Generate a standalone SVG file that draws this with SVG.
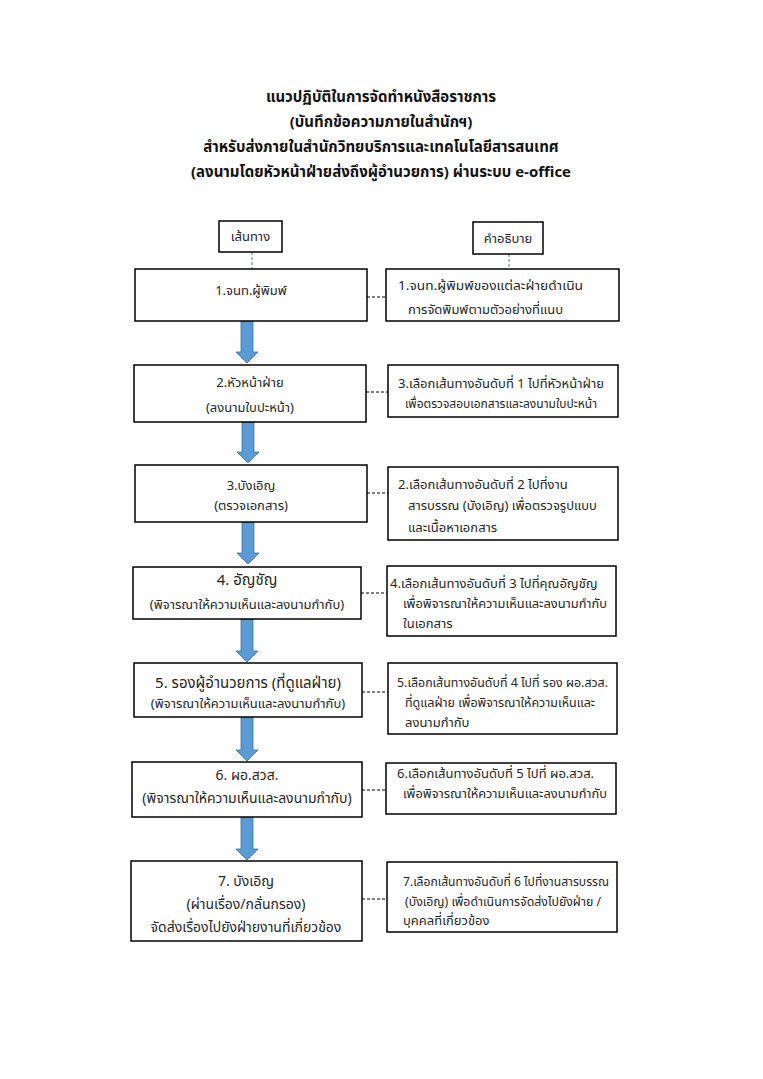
<svg xmlns="http://www.w3.org/2000/svg" width="763" height="1079" viewBox="0 0 763 1079">
<style>
text{font-family:"Noto Sans Thai","Tahoma","Noto Sans","DejaVu Sans",sans-serif;fill:#262626;font-size:13px}
.t{font-weight:bold;font-size:15px;fill:#111;text-anchor:middle}
.c{text-anchor:middle}
.box{fill:#fff;stroke:#000;stroke-width:1.5}
.dash{stroke:#000;stroke-width:1;stroke-dasharray:3,2;fill:none}
.vd{stroke:#41719C;stroke-width:1;stroke-dasharray:3,2;fill:none}
.arr{fill:#5B9BD5;stroke:#41719C;stroke-width:0.8}
.l{font-size:15px}
.m{font-size:14px}
</style>
<rect width="763" height="1079" fill="#fff"/>
<g id="title">
<text class="t" x="381" y="102">แนวปฏิบัติในการจัดทำหนังสือราชการ</text>
<text class="t" x="381" y="127">(บันทึกข้อความภายในสำนักฯ)</text>
<text class="t" x="381" y="152">สำหรับส่งภายในสำนักวิทยบริการและเทคโนโลยีสารสนเทศ</text>
<text class="t" x="381" y="177">(ลงนามโดยหัวหน้าฝ่ายส่งถึงผู้อำนวยการ) ผ่านระบบ e-office</text>
</g>
<g id="connectors">
<line class="vd" x1="252" y1="252" x2="252" y2="269"/>
<line class="vd" x1="509" y1="254" x2="509" y2="269"/>
<line class="dash" x1="367" y1="297" x2="386" y2="297"/>
<line class="dash" x1="366" y1="392" x2="388" y2="392"/>
<line class="dash" x1="367" y1="493" x2="388" y2="493"/>
<line class="dash" x1="361" y1="593" x2="387" y2="593"/>
<line class="dash" x1="362" y1="692" x2="388" y2="692"/>
<line class="dash" x1="362" y1="790" x2="386" y2="790"/>
<line class="dash" x1="362" y1="899" x2="387" y2="899"/>
<path class="arr" d="M241,321 H253 V352 H258 L247,363 L236,352 H241 Z"/>
<path class="arr" d="M242,422 H254 V452 H259 L248,463 L237,452 H242 Z"/>
<path class="arr" d="M242,522 H254 V553 H259 L248,564 L237,553 H242 Z"/>
<path class="arr" d="M241,619 H253 V651 H258 L247,662 L236,651 H241 Z"/>
<path class="arr" d="M241,717 H253 V750 H258 L247,761 L236,750 H241 Z"/>
<path class="arr" d="M241,817 H253 V849 H258 L247,860 L236,849 H241 Z"/>
</g>
<g id="h1"><rect class="box" x="219" y="221" width="63" height="31"/><text class="c" x="250.5" y="241">เส้นทาง</text></g>
<g id="h2"><rect class="box" x="473" y="222" width="70" height="32"/><text class="c" x="508" y="243">คำอธิบาย</text></g>
<g id="n1"><rect class="box" x="135" y="269" width="232" height="52"/><text class="c" x="251" y="295">1.จนท.ผู้พิมพ์</text></g>
<g id="d1"><rect class="box" x="386" y="269" width="233" height="52"/>
<text x="398" y="290" textLength="185" lengthAdjust="spacingAndGlyphs">1.จนท.ผู้พิมพ์ของแต่ละฝ่ายดำเนิน</text>
<text x="408" y="314">การจัดพิมพ์ตามตัวอย่างที่แนบ</text></g>
<g id="n2"><rect class="box" x="134" y="365" width="232" height="57"/>
<text class="c" x="250" y="387">2.หัวหน้าฝ่าย</text>
<text class="c" x="250" y="412">(ลงนามใบปะหน้า)</text></g>
<g id="d2"><rect class="box" x="388" y="365" width="230" height="52"/>
<text x="398" y="388">3.เลือกเส้นทางอันดับที่ 1 ไปที่หัวหน้าฝ่าย</text>
<text x="405" y="408" style="font-size:12px">เพื่อตรวจสอบเอกสารและลงนามใบปะหน้า</text></g>
<g id="n3"><rect class="box" x="135" y="465" width="232" height="57"/>
<text class="c" x="251" y="490">3.บังเอิญ</text>
<text class="c" x="251" y="510">(ตรวจเอกสาร)</text></g>
<g id="d3"><rect class="box" x="388" y="467" width="230" height="73"/>
<text x="398" y="489">2.เลือกเส้นทางอันดับที่ 2 ไปที่งาน</text>
<text x="408" y="510">สารบรรณ (บังเอิญ) เพื่อตรวจรูปแบบ</text>
<text x="408" y="532">และเนื้อหาเอกสาร</text></g>
<g id="n4"><rect class="box" x="133" y="567" width="228" height="52"/>
<text class="c l" x="247" y="585">4. อัญชัญ</text>
<text class="c" x="247" y="609">(พิจารณาให้ความเห็นและลงนามกำกับ)</text></g>
<g id="d4"><rect class="box" x="387" y="566" width="229" height="70"/>
<text x="390" y="588">4.เลือกเส้นทางอันดับที่ 3 ไปที่คุณอัญชัญ</text>
<text x="403" y="608" textLength="204" lengthAdjust="spacingAndGlyphs">เพื่อพิจารณาให้ความเห็นและลงนามกำกับ</text>
<text x="403" y="628">ในเอกสาร</text></g>
<g id="n5"><rect class="box" x="134" y="663" width="228" height="54"/>
<text class="c l" x="248" y="688">5. รองผู้อำนวยการ (ที่ดูแลฝ่าย)</text>
<text class="c" x="248" y="708">(พิจารณาให้ความเห็นและลงนามกำกับ)</text></g>
<g id="d5"><rect class="box" x="388" y="663" width="229" height="71"/>
<text x="397" y="687" textLength="211" lengthAdjust="spacingAndGlyphs">5.เลือกเส้นทางอันดับที่ 4 ไปที่ รอง ผอ.สวส.</text>
<text x="405" y="707" textLength="190" lengthAdjust="spacingAndGlyphs">ที่ดูแลฝ่าย เพื่อพิจารณาให้ความเห็นและ</text>
<text x="405" y="727">ลงนามกำกับ</text></g>
<g id="n6"><rect class="box" x="132" y="762" width="230" height="55"/>
<text class="c m" x="247" y="780">6. ผอ.สวส.</text>
<text class="c m" x="247" y="803">(พิจารณาให้ความเห็นและลงนามกำกับ)</text></g>
<g id="d6"><rect class="box" x="386" y="763" width="230" height="51"/>
<text x="397" y="778">6.เลือกเส้นทางอันดับที่ 5 ไปที่ ผอ.สวส.</text>
<text x="403" y="798" textLength="204" lengthAdjust="spacingAndGlyphs">เพื่อพิจารณาให้ความเห็นและลงนามกำกับ</text></g>
<g id="n7"><rect class="box" x="131" y="861" width="231" height="80"/>
<text class="c m" x="246" y="886">7. บังเอิญ</text>
<text class="c m" x="246" y="909">(ผ่านเรื่อง/กลั่นกรอง)</text>
<text class="c m" x="246" y="932">จัดส่งเรื่องไปยังฝ่ายงานที่เกี่ยวข้อง</text></g>
<g id="d7"><rect class="box" x="387" y="862" width="230" height="70"/>
<text x="403" y="886" textLength="206" lengthAdjust="spacingAndGlyphs">7.เลือกเส้นทางอันดับที่ 6 ไปที่งานสารบรรณ</text>
<text x="405" y="906" textLength="196" lengthAdjust="spacingAndGlyphs">(บังเอิญ) เพื่อดำเนินการจัดส่งไปยังฝ่าย /</text>
<text x="403" y="925">บุคคลที่เกี่ยวข้อง</text></g>
</svg>
